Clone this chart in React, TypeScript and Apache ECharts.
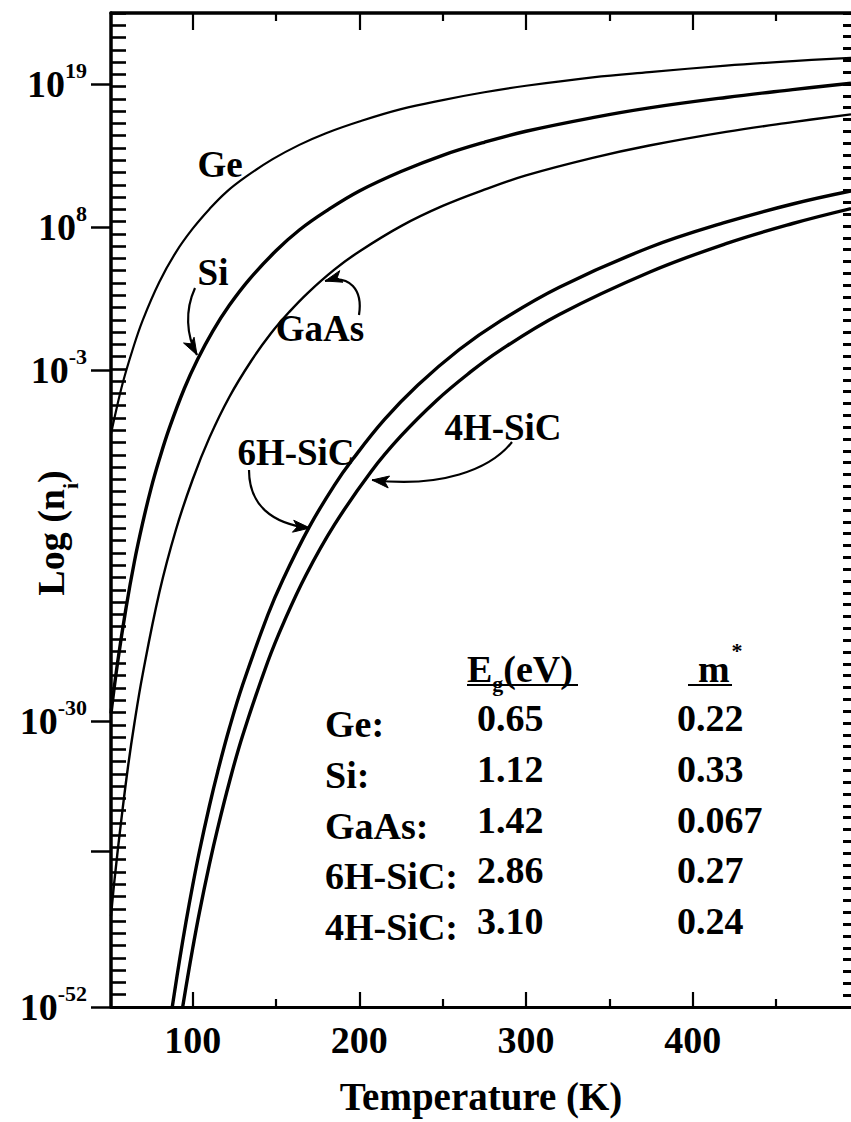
import React, { useEffect, useRef } from "react";
import * as echarts from "echarts";

const FONT = '"Liberation Serif", "Times New Roman", Times, serif';

// Axis ticks / labels
const xMajorTicks = [100, 200, 300, 400];
const xMinorTicks = [150, 250, 350, 450];
const yLabelExponents = [19, 8, -3, -30, -52];
const yMajorTicks = [19, 8, -3, -30, -40, -52];

// Curves: [temperature (K), log10(n_i)]
const geData = [
  [51, -7.9], [53, -6.7], [58, -4.0], [64, -1.4], [70, 0.85], [80, 3.8], [90, 6.1],
  [100, 7.9], [110, 9.4], [120, 10.7], [132, 11.9], [148, 13.25], [164, 14.35],
  [180, 15.25], [200, 16.15], [225, 17.1], [250, 17.8], [275, 18.4], [300, 18.9],
  [340, 19.55], [374, 19.95], [420, 20.45], [460, 20.8], [495, 21.05],
];
const siData = [
  [51, -29.4], [55, -25.45], [60, -21.3], [65, -17.75], [70, -14.75], [75, -12.1],
  [80, -9.85], [86, -7.45], [95, -4.4], [103, -2.15], [112, 0.0], [122, 2.0],
  [134, 4.0], [150, 6.2], [164, 7.8], [180, 9.25], [200, 10.8], [225, 12.3],
  [250, 13.55], [275, 14.55], [300, 15.4], [340, 16.45], [374, 17.2], [420, 18.0],
  [460, 18.6], [495, 19.1],
];
const gaasData = [
  [51, -45.0], [53.2, -42.1], [57, -37.8], [61, -33.7], [65, -30.2], [70, -26.4],
  [80, -20.1], [90, -15.25], [100, -11.4], [110, -8.2], [122, -5.05], [135, -2.3],
  [147, -0.15], [158, 1.5], [169, 2.95], [185, 4.75], [200, 6.15], [225, 8.1],
  [250, 9.65], [275, 10.9], [300, 12.0], [340, 13.35], [374, 14.3], [420, 15.35],
  [460, 16.1], [495, 16.7],
];
const sic6hData = [
  [87.75, -52.0], [92, -48.5], [96, -45.45], [100, -42.65], [104, -40.05], [110, -36.55],
  [115, -33.9], [122, -30.55], [130, -27.2], [145, -21.85], [154, -19.15], [170, -15.05],
  [185, -11.85], [196, -9.85], [215, -6.8], [235, -4.15], [260, -1.4], [284, 0.75],
  [320, 3.4], [374, 6.45], [420, 8.4], [460, 9.8], [495, 10.8],
];
const sic4hData = [
  [94, -52.0], [97, -49.7], [100, -47.5], [104, -44.75], [110, -41.05], [115, -38.25],
  [122, -34.7], [130, -31.1], [145, -25.45], [155, -22.3], [168, -18.75], [185, -14.9],
  [207, -10.8], [225, -8.05], [246.5, -5.3], [265, -3.3], [284, -1.5], [320, 1.3],
  [374, 4.55], [420, 6.75], [460, 8.3], [495, 9.45],
];

// Inset table
const materials = ["Ge:", "Si:", "GaAs:", "6H-SiC:", "4H-SiC:"];
const bandGaps = ["0.65", "1.12", "1.42", "2.86", "3.10"];
const effMasses = ["0.22", "0.33", "0.067", "0.27", "0.24"];

function arrowHead(tipX: number, tipY: number, fromX: number, fromY: number, len = 17, halfW = 6) {
  const dx = tipX - fromX;
  const dy = tipY - fromY;
  const d = Math.sqrt(dx * dx + dy * dy) || 1;
  const ux = dx / d;
  const uy = dy / d;
  const px = -uy;
  const py = ux;
  const bx = tipX - ux * len;
  const by = tipY - uy * len;
  return {
    type: "polygon",
    shape: {
      points: [
        [tipX, tipY],
        [bx + px * halfW, by + py * halfW],
        [tipX - ux * len * 0.75, tipY - uy * len * 0.75],
        [bx - px * halfW, by - py * halfW],
      ],
    },
    style: { fill: "#000", stroke: "#000", lineWidth: 1 },
    z: 10,
  };
}

function curvedArrow(x1: number, y1: number, c1x: number, c1y: number, c2x: number, c2y: number, x2: number, y2: number) {
  return [
    {
      type: "bezierCurve",
      shape: { x1, y1, cpx1: c1x, cpy1: c1y, cpx2: c2x, cpy2: c2y, x2, y2 },
      style: { stroke: "#000", lineWidth: 2.2, fill: null },
      z: 10,
    },
    arrowHead(x2, y2, c2x, c2y),
  ];
}

const txt = (text: string, x: number, y: number, size = 38, align = "left") => ({
  type: "text",
  x,
  y,
  z: 10,
  style: {
    text,
    fill: "#000",
    fontSize: size,
    fontWeight: "bold",
    fontFamily: FONT,
    align,
    verticalAlign: "middle",
  },
});

export default function App() {
  const ref = useRef<HTMLDivElement>(null);

  useEffect(() => {
    document.body.style.margin = "0";
    if (!ref.current) return;
    const chart = echarts.init(ref.current, null, { renderer: "svg" });

    const axisLabelStyle = {
      fontSize: 38,
      fontWeight: "bold",
      fontFamily: FONT,
      color: "#000",
    };

    const tableElements: any[] = [];
    materials.forEach((m, i) => {
      tableElements.push(txt(m, 325, 724 + i * 50.8));
      tableElements.push(txt(bandGaps[i], 477, 718 + i * 50.8));
      tableElements.push(txt(effMasses[i], 677, 718 + i * 50.8));
    });

    const option: any = {
      animation: false,
      backgroundColor: "#ffffff",
      grid: { left: 111, right: 0, top: 13, bottom: 115, containLabel: false },
      xAxis: [
        {
          type: "value",
          min: 51,
          max: 495,
          position: "bottom",
          axisLine: { show: true, onZero: false, lineStyle: { color: "#000", width: 3 } },
          axisTick: {
            show: true,
            inside: true,
            length: 15,
            customValues: xMajorTicks,
            lineStyle: { color: "#000", width: 2.2 },
          },
          axisLabel: { show: true, customValues: xMajorTicks, margin: 14, ...axisLabelStyle },
          splitLine: { show: false },
          name: "Temperature (K)",
          nameLocation: "middle",
          nameGap: 70,
          nameTextStyle: { ...axisLabelStyle, fontSize: 39 },
        },
        {
          type: "value",
          min: 51,
          max: 495,
          position: "bottom",
          axisLine: { show: false, onZero: false },
          axisTick: {
            show: true,
            inside: true,
            length: 8,
            customValues: xMinorTicks,
            lineStyle: { color: "#000", width: 2.2 },
          },
          axisLabel: { show: false },
          splitLine: { show: false },
        },
        {
          type: "value",
          min: 51,
          max: 495,
          position: "top",
          axisLine: { show: true, onZero: false, lineStyle: { color: "#000", width: 3.5 } },
          axisTick: {
            show: true,
            inside: true,
            length: 17,
            customValues: xMajorTicks,
            lineStyle: { color: "#000", width: 2.2 },
          },
          axisLabel: { show: false },
          splitLine: { show: false },
        },
        {
          type: "value",
          min: 51,
          max: 495,
          position: "top",
          axisLine: { show: false, onZero: false },
          axisTick: {
            show: true,
            inside: true,
            length: 8,
            customValues: xMinorTicks,
            lineStyle: { color: "#000", width: 2.2 },
          },
          axisLabel: { show: false },
          splitLine: { show: false },
        },
      ],
      yAxis: [
        {
          type: "value",
          min: -52,
          max: 24.5,
          position: "left",
          axisLine: { show: true, onZero: false, lineStyle: { color: "#000", width: 3.5 } },
          axisTick: {
            show: true,
            inside: false,
            length: 20,
            customValues: yMajorTicks,
            lineStyle: { color: "#000", width: 2.5 },
          },
          axisLabel: {
            show: true,
            customValues: yLabelExponents,
            margin: 24,
            formatter: (v: number) => `{b|10}{s|${v}}`,
            rich: {
              b: { ...axisLabelStyle, lineHeight: 50 },
              s: { fontSize: 22, fontWeight: "bold", fontFamily: FONT, color: "#000", lineHeight: 22, verticalAlign: "top" },
            },
          },
          splitLine: { show: false },
        },
        {
          type: "value",
          min: 0,
          max: 81,
          interval: 1,
          position: "left",
          axisLine: { show: false, onZero: false },
          axisTick: { show: true, inside: true, length: 15, lineStyle: { color: "#000", width: 2.6 } },
          axisLabel: { show: false },
          splitLine: { show: false },
        },
        {
          type: "value",
          min: 0,
          max: 84,
          interval: 1,
          position: "right",
          axisLine: { show: false, onZero: false },
          axisTick: { show: true, inside: true, length: 8, lineStyle: { color: "#000", width: 3 } },
          axisLabel: { show: false },
          splitLine: { show: false },
        },
      ],
      series: [
        { name: "Ge", data: geData, width: 2.2 },
        { name: "Si", data: siData, width: 3.4 },
        { name: "GaAs", data: gaasData, width: 2.4 },
        { name: "6H-SiC", data: sic6hData, width: 3.4 },
        { name: "4H-SiC", data: sic4hData, width: 3.4 },
      ].map((s) => ({
        type: "line",
        name: s.name,
        data: s.data,
        xAxisIndex: 0,
        yAxisIndex: 0,
        smooth: 0.4,
        showSymbol: false,
        clip: true,
        lineStyle: { color: "#000", width: s.width },
        z: 5,
      })),
      graphic: {
        elements: [
          // y axis title
          {
            type: "text",
            x: 51,
            y: 533,
            rotation: Math.PI / 2,
            z: 10,
            style: {
              text: "{a|Log (n}{s|i}{a|)}",
              align: "center",
              verticalAlign: "middle",
              fill: "#000",
              rich: {
                a: { fontSize: 38, fontWeight: "bold", fontFamily: FONT, fill: "#000", lineHeight: 60 },
                s: { fontSize: 22, fontWeight: "bold", fontFamily: FONT, fill: "#000", lineHeight: 22, verticalAlign: "bottom" },
              },
            },
          },
          // curve labels
          txt("Ge", 220, 164, 37, "center"),
          txt("Si", 213, 272, 37, "center"),
          txt("GaAs", 320, 328, 37, "center"),
          txt("6H-SiC", 296, 452, 37, "center"),
          txt("4H-SiC", 503, 427, 37, "center"),
          // arrows
          ...curvedArrow(195, 288, 185, 310, 186, 335, 197, 355),
          ...curvedArrow(359, 315, 363, 290, 350, 274, 325, 281),
          ...curvedArrow(249, 470, 249, 505, 272, 524, 310, 528),
          ...curvedArrow(512, 442, 490, 470, 440, 488, 372, 480),
          // table header
          {
            type: "text",
            x: 467,
            y: 669,
            z: 10,
            style: {
              text: "{a|E}{s|g}{a|(eV)}",
              align: "left",
              verticalAlign: "middle",
              fill: "#000",
              rich: {
                a: { fontSize: 38, fontWeight: "bold", fontFamily: FONT, fill: "#000", lineHeight: 50 },
                s: { fontSize: 22, fontWeight: "bold", fontFamily: FONT, fill: "#000", lineHeight: 20, verticalAlign: "bottom" },
              },
            },
          },
          { type: "line", z: 10, shape: { x1: 467, y1: 685, x2: 578, y2: 685 }, style: { stroke: "#000", lineWidth: 2 } },
          txt("m", 698, 669, 38, "left"),
          txt("*", 737, 650, 22, "center"),
          { type: "line", z: 10, shape: { x1: 688, y1: 685, x2: 732, y2: 685 }, style: { stroke: "#000", lineWidth: 2 } },
          ...tableElements,
        ],
      },
    };

    chart.setOption(option);
    return () => chart.dispose();
  }, []);

  return <div ref={ref} style={{ width: 851, height: 1122 }} />;
}
